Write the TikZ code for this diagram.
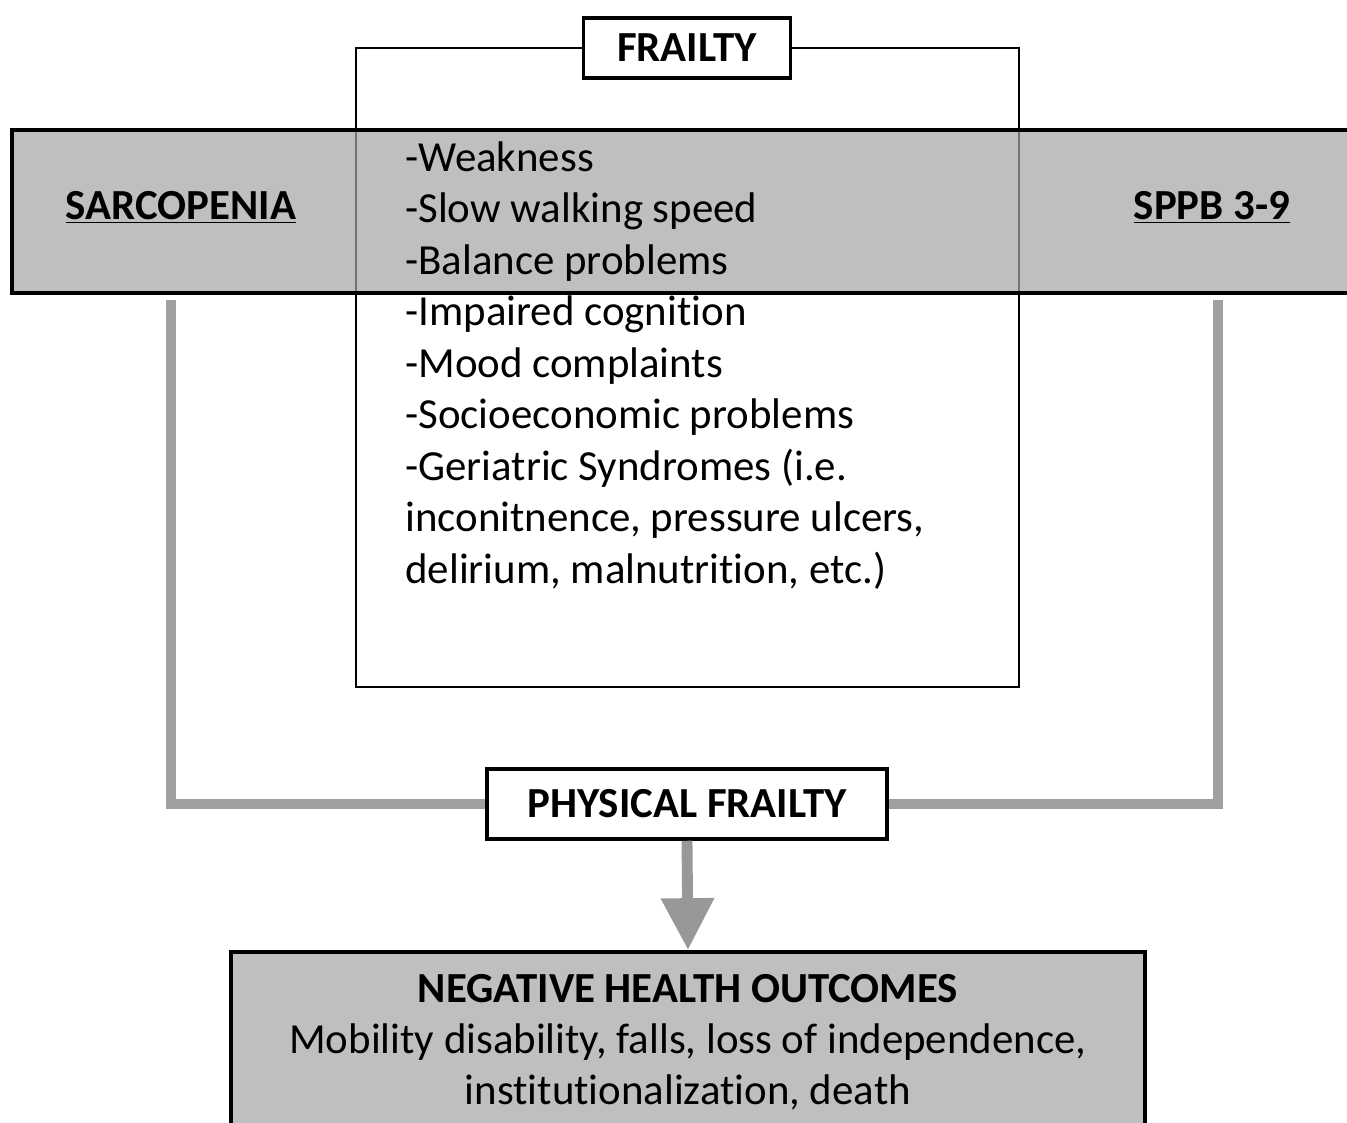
\documentclass[tikz,border=0pt]{standalone}
\usepackage{fontspec}
\setmainfont[Ligatures=NoCommon]{Carlito}
\usetikzlibrary{arrows.meta}

\definecolor{bandgray}{HTML}{A4A4A4}
\definecolor{boxgray}{HTML}{BFBFBF}
\definecolor{linkgray}{HTML}{A0A0A0}

\begin{document}
\begin{tikzpicture}[
    x=0.02cm, y=-0.02cm,
    every node/.style={font=\fontsize{24.4}{29.2}\selectfont},
    frailframe/.style={draw=black, line width=1pt},
    band/.style={fill=bandgray, fill opacity=0.7},
    bandedge/.style={draw=black, line width=2.8pt},
    titlebox/.style={draw=black, line width=2pt, fill=white, font=\fontsize{24.4}{29.2}\selectfont\bfseries},
    bandlabel/.style={font=\fontsize{24.4}{29.2}\selectfont\bfseries},
    listitem/.style={anchor=base west, inner sep=0pt},
    link/.style={draw=linkgray, line width=5.7pt},
    arrowline/.style={draw=linkgray!95!black, line width=6.2pt, -{Triangle[width=28.9pt, length=29.5pt]}},
    outbox/.style={draw=black, line width=2.3pt, fill=boxgray, align=center, minimum width=18.28cm, minimum height=3.6cm}
]
    \useasboundingbox (0,0) rectangle (1347,1123);

    \draw[frailframe] (356,48) rectangle (1019,687);
    \node[titlebox, minimum width=4.14cm, minimum height=1.2cm] (frailty) at (687,48) {FRAILTY};

    \fill[band] (12,130) rectangle (1380,293);
    \draw[bandedge] (12,130) rectangle (1380,293);
    \node[bandlabel] (sarc) at (181,207) {\underline{SARCOPENIA}};
    \node[bandlabel] (sppb) at (1212,207) {\underline{SPPB 3-9}};

    \foreach \txt [count=\i from 0] in {{-Weakness},{-Slow walking speed},{-Balance problems},
        {-Impaired cognition},{-Mood complaints},{-Socioeconomic problems},
        {-Geriatric Syndromes (i.e.},{inconitnence, pressure ulcers,},{delirium, malnutrition, etc.)}} {
        \node[listitem] (item\i) at (405,{171+51.5*\i}) {\txt};
    }

    \node[titlebox, minimum width=8cm, minimum height=1.4cm] (phys) at (687,804) {PHYSICAL FRAILTY};
    \coordinate (sarcfoot) at (171,300);
    \coordinate (sppbfoot) at (1218,300);
    \draw[link] (sarcfoot) |- (phys.west);
    \draw[link] (sppbfoot) |- (phys.east);

    \node[outbox] (outcome) at (688,1042) {\textbf{NEGATIVE HEALTH OUTCOMES}\\Mobility disability, falls, loss of independence,\\institutionalization, death};
    \draw[arrowline] (phys.south) -- (outcome.north);
\end{tikzpicture}
\end{document}
